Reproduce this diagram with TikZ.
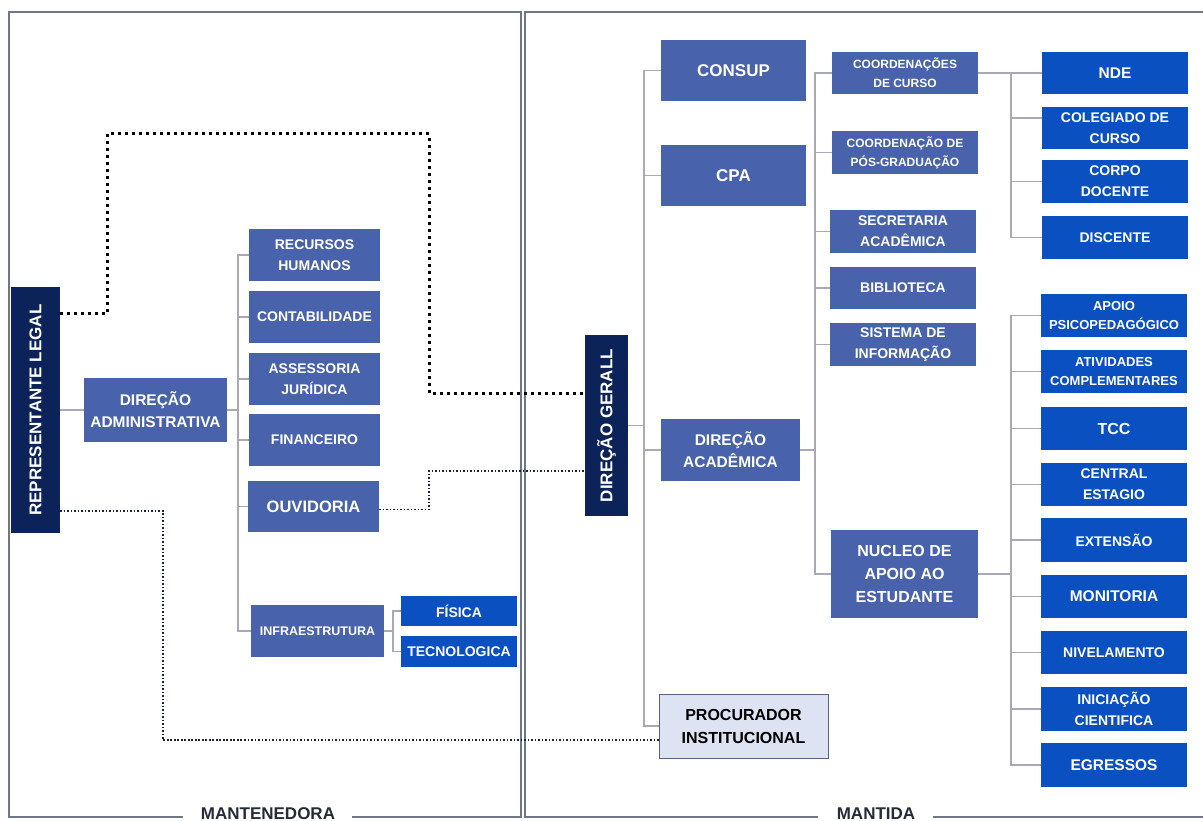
\documentclass[tikz,border=0pt]{standalone}
\usepackage{fontspec}
\setmainfont{Liberation Sans}
\usetikzlibrary{calc}
\definecolor{midblue}{HTML}{4863AB}
\definecolor{brightblue}{HTML}{0B50C0}
\definecolor{navy}{HTML}{0B2358}
\definecolor{treegray}{HTML}{A8A8B6}
\definecolor{framegray}{HTML}{707784}
\definecolor{procfill}{HTML}{DDE3F2}
\definecolor{procedge}{HTML}{58627F}
\definecolor{labeltext}{HTML}{262B38}
\definecolor{dotdark}{HTML}{1B2140}
\newcommand\placebox[7]{\node[#1, minimum width={(#5-#3)*1pt}, minimum height={(#6-#4)*1pt}] (#2) at ({(#3+#5)/2},{-(#4+#6)/2}) {#7};}
\tikzset{
  fs/.style 2 args={font=\fontsize{#1}{#2}\selectfont\bfseries},
  box/.style={fill=midblue, text=white, align=center, inner sep=0pt, fs={14}{21}},
  bbox/.style={box, fill=brightblue},
  nbox/.style={box, fill=navy, fs={17}{21}},
  pbox/.style={box, fill=procfill, draw=procedge, line width=1pt, text=black, fs={16}{23}},
  tree/.style={draw=treegray, line width=1.5pt},
  thickdot/.style={draw=black, line width=3pt, dash pattern=on 3pt off 4pt},
  thindot/.style={draw=dotdark, line width=1.8pt, dash pattern=on 1.6pt off 1.9pt},
  frame/.style={draw=framegray, line width=1.5pt},
  framelabel/.style={text=labeltext, anchor=base, inner sep=0pt, fs={17}{20}}
}
\begin{document}
\begin{tikzpicture}[x=1pt,y=1pt]
\useasboundingbox[fill=white] (0,0) rectangle (1203,-821);
% frames with gaps for labels
\draw[frame] (183,-817) -- (9,-817) -- (9,-12) -- (521,-12) -- (521,-817) -- (352,-817);
\draw[frame] (818,-817) -- (525,-817) -- (525,-12) -- (1212,-12) -- (1212,-817) -- (933,-817);
\node[framelabel] (lblL) at (268,-819.5) {MANTENEDORA};
\node[framelabel] (lblR) at (876,-819.5) {MANTIDA};

% left side
\placebox{nbox}{rep}{11}{287}{60}{533}{\rotatebox{90}{REPRESENTANTE LEGAL}}
\placebox{box, fs={15.5}{22}}{dadm}{84}{378}{227}{442}{DIREÇÃO\\ADMINISTRATIVA}
\placebox{box}{rh}{249}{229}{380}{281}{RECURSOS\\HUMANOS}
\placebox{box}{cont}{249}{291}{380}{343}{CONTABILIDADE}
\placebox{box}{aj}{249}{353}{380}{405}{ASSESSORIA\\JURÍDICA}
\placebox{box}{fin}{249}{414}{380}{466}{FINANCEIRO}
\placebox{box, fs={16.5}{22}}{ouv}{248}{481}{379}{532}{OUVIDORIA}
\placebox{box, fs={12.5}{18}}{infra}{251}{605}{384}{657}{INFRAESTRUTURA}
\placebox{bbox}{fis}{401}{596}{517}{626}{FÍSICA}
\placebox{bbox}{tec}{401}{636}{517}{667}{TECNOLOGICA}

% right side
\placebox{nbox}{dg}{585}{335}{628}{516}{\rotatebox{90}{DIREÇÃO GERALL}}
\placebox{box, fs={17}{22}}{consup}{661}{40}{806}{101}{CONSUP}
\placebox{box, fs={17}{22}}{cpa}{661}{145}{806}{206}{CPA}
\placebox{box, fs={15.5}{22}}{dacad}{661}{419}{800}{481}{DIREÇÃO\\ACADÊMICA}
\placebox{pbox}{proc}{659}{694}{828}{758}{PROCURADOR\\INSTITUCIONAL}

\placebox{box, fs={12}{19}}{cc}{832}{52}{978}{94}{COORDENAÇÕES\\DE CURSO}
\placebox{box, fs={12}{19}}{pos}{832}{131}{978}{174}{COORDENAÇÃO DE\\PÓS-GRADUAÇÃO}
\placebox{box}{sec}{830}{210}{976}{253}{SECRETARIA\\ACADÊMICA}
\placebox{box}{bib}{830}{267}{976}{309}{BIBLIOTECA}
\placebox{box}{si}{830}{323}{976}{366}{SISTEMA DE\\INFORMAÇÃO}
\placebox{box, fs={16}{23}}{nae}{831}{530}{978}{618}{NUCLEO DE\\APOIO AO\\ESTUDANTE}

\placebox{bbox, fs={15.5}{21}}{nde}{1042}{52}{1188}{94}{NDE}
\placebox{bbox}{col}{1042}{107}{1188}{149}{COLEGIADO DE\\CURSO}
\placebox{bbox}{corpo}{1042}{160}{1188}{203}{CORPO\\DOCENTE}
\placebox{bbox}{disc}{1042}{216}{1188}{259}{DISCENTE}
\placebox{bbox, fs={13}{19}}{apoio}{1041}{294}{1187}{337}{APOIO\\PSICOPEDAGÓGICO}
\placebox{bbox, fs={13}{19}}{ativ}{1041}{350}{1187}{393}{ATIVIDADES\\COMPLEMENTARES}
\placebox{bbox, fs={16}{21}}{tcc}{1041}{407}{1187}{450}{TCC}
\placebox{bbox}{cest}{1041}{463}{1187}{506}{CENTRAL\\ESTAGIO}
\placebox{bbox}{ext}{1041}{518}{1187}{562}{EXTENSÃO}
\placebox{bbox, fs={15.5}{21}}{mon}{1041}{575}{1187}{618}{MONITORIA}
\placebox{bbox}{niv}{1041}{631}{1187}{674}{NIVELAMENTO}
\placebox{bbox}{ini}{1041}{687}{1187}{731}{INICIAÇÃO\\CIENTIFICA}
\placebox{bbox, fs={15.5}{21}}{egr}{1041}{743}{1187}{787}{EGRESSOS}

% tree connectors
\draw[tree] (rep.east) -- (dadm.west);
\foreach \c in {rh,cont,aj,fin,ouv,infra} \draw[tree] (dadm.east) -- ++(11,0) |- (\c.west);
\foreach \c in {fis,tec} \draw[tree] (infra.east) -- ++(9,0) |- (\c.west);
\foreach \c in {consup,cpa,dacad,proc} \draw[tree] (dg.east) -- ++(16,0) |- (\c.west);
\foreach \c in {cc,pos,sec,bib,si,nae} \draw[tree] (dacad.east) -- ++(15,0) |- (\c.west);
\foreach \c in {nde,corpo,disc} \draw[tree] (cc.east) -- ++(33,0) |- (\c.west);
\draw[tree] (cc.east) -- ++(33,0) |- ([yshift=10pt]col.west);
\foreach \c in {apoio,ativ,tcc,cest,ext,mon,niv,ini,egr} \draw[tree] (nae.east) -- ++(33,0) |- (\c.west);

% dotted connectors
\coordinate (rq1) at (60,-314);
\coordinate (dgq1) at (585,-393);
\coordinate (dgq2) at (585,-471);
\coordinate (rq2) at (60,-511);
\coordinate (pq) at (659,-740);
\draw[thickdot] (rq1) -| (107,-134) -| (429,-393) -- (dgq1);
\draw[thindot] ([yshift=-3pt]ouv.east) -| (429,-471) -- (dgq2);
\draw[thindot] (rq2) -| (163,-740) -- (pq);
\end{tikzpicture}
\end{document}
